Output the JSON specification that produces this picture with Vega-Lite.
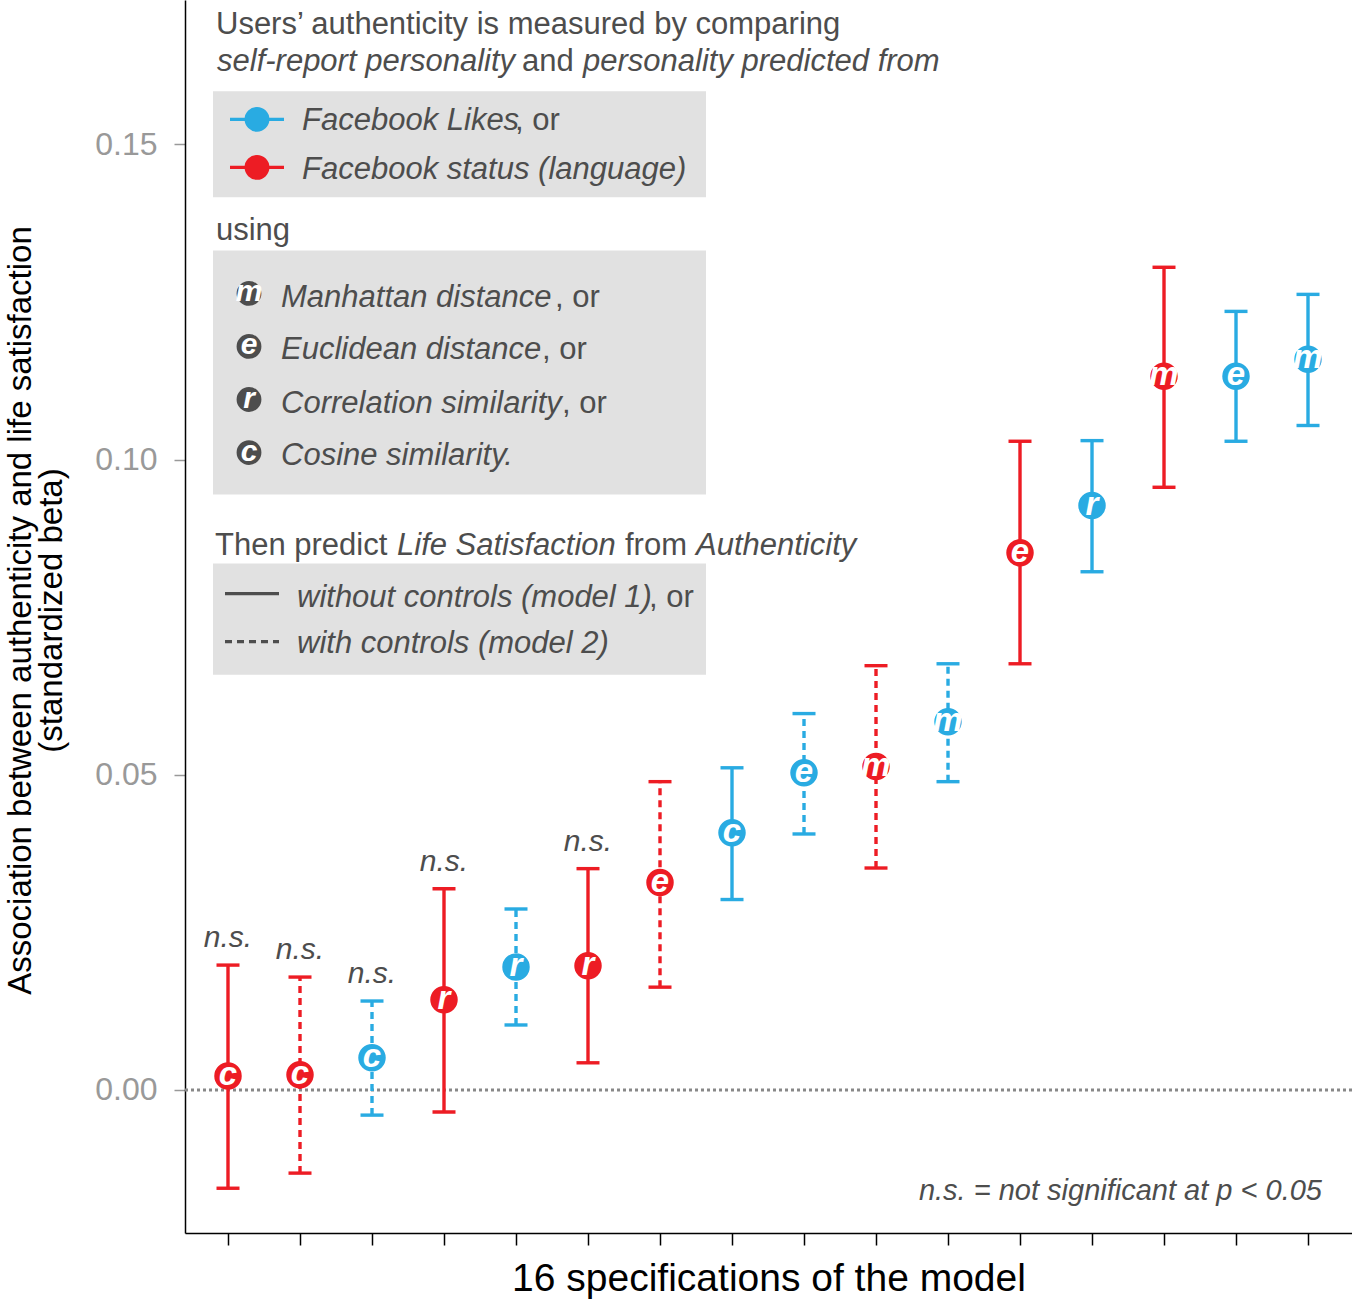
{
  "$schema": "https://vega.github.io/schema/vega-lite/v6.json",
  "width": 1167,
  "height": 1233,
  "autosize": {"type": "none"},
  "padding": {"left": 185, "top": 0, "right": 0, "bottom": 67},
  "background": "white",
  "config": {
    "view": {"stroke": null},
    "font": "Liberation Sans",
    "axis": {"grid": false, "domainWidth": 1.5, "tickWidth": 1.5}
  },
  "datasets": {
    "specs": [
      {"spec": 1, "source": "Facebook status (language)", "metric": "c", "model": "model 1", "beta": 0.0022, "lo": -0.0156, "hi": 0.0198, "ns": true},
      {"spec": 2, "source": "Facebook status (language)", "metric": "c", "model": "model 2", "beta": 0.0024, "lo": -0.0132, "hi": 0.0179, "ns": true},
      {"spec": 3, "source": "Facebook Likes", "metric": "c", "model": "model 2", "beta": 0.0051, "lo": -0.0040, "hi": 0.0141, "ns": true},
      {"spec": 4, "source": "Facebook status (language)", "metric": "r", "model": "model 1", "beta": 0.0143, "lo": -0.0035, "hi": 0.0319, "ns": true},
      {"spec": 5, "source": "Facebook Likes", "metric": "r", "model": "model 2", "beta": 0.0195, "lo": 0.0103, "hi": 0.0287, "ns": false},
      {"spec": 6, "source": "Facebook status (language)", "metric": "r", "model": "model 1", "beta": 0.0197, "lo": 0.0043, "hi": 0.0351, "ns": true},
      {"spec": 7, "source": "Facebook status (language)", "metric": "e", "model": "model 2", "beta": 0.0329, "lo": 0.0163, "hi": 0.0489, "ns": false},
      {"spec": 8, "source": "Facebook Likes", "metric": "c", "model": "model 1", "beta": 0.0408, "lo": 0.0302, "hi": 0.0511, "ns": false},
      {"spec": 9, "source": "Facebook Likes", "metric": "e", "model": "model 2", "beta": 0.0503, "lo": 0.0406, "hi": 0.0597, "ns": false},
      {"spec": 10, "source": "Facebook status (language)", "metric": "m", "model": "model 2", "beta": 0.0513, "lo": 0.0352, "hi": 0.0673, "ns": false},
      {"spec": 11, "source": "Facebook Likes", "metric": "m", "model": "model 2", "beta": 0.0584, "lo": 0.0489, "hi": 0.0676, "ns": false},
      {"spec": 12, "source": "Facebook status (language)", "metric": "e", "model": "model 1", "beta": 0.0852, "lo": 0.0676, "hi": 0.1029, "ns": false},
      {"spec": 13, "source": "Facebook Likes", "metric": "r", "model": "model 1", "beta": 0.0927, "lo": 0.0822, "hi": 0.1030, "ns": false},
      {"spec": 14, "source": "Facebook status (language)", "metric": "m", "model": "model 1", "beta": 0.1132, "lo": 0.0956, "hi": 0.1305, "ns": false},
      {"spec": 15, "source": "Facebook Likes", "metric": "e", "model": "model 1", "beta": 0.1132, "lo": 0.1029, "hi": 0.1235, "ns": false},
      {"spec": 16, "source": "Facebook Likes", "metric": "m", "model": "model 1", "beta": 0.1159, "lo": 0.1054, "hi": 0.1262, "ns": false}
    ],
    "boxes": [
      {"x": 0.7917, "x2": 7.6389, "y": 0.15841, "y2": 0.14159},
      {"x": 0.7917, "x2": 7.6389, "y": 0.13317, "y2": 0.09444},
      {"x": 0.7917, "x2": 7.6389, "y": 0.08349, "y2": 0.06587}
    ],
    "sourceKey": [
      {"source": "Facebook Likes", "x": 1.0278, "x2": 1.7778, "cx": 1.4028, "y": 0.15397},
      {"source": "Facebook status (language)", "x": 1.0278, "x2": 1.7778, "cx": 1.4028, "y": 0.14635}
    ],
    "metricKey": [
      {"metric": "m", "x": 1.2917, "y": 0.12635},
      {"metric": "e", "x": 1.2917, "y": 0.11794},
      {"metric": "r", "x": 1.2917, "y": 0.10952},
      {"metric": "c", "x": 1.2917, "y": 0.10111}
    ],
    "modelKey": [
      {"model": "model 1", "x": 0.9583, "x2": 1.7083, "y": 0.07873},
      {"model": "model 2", "x": 0.9583, "x2": 1.7083, "y": 0.07111}
    ],
    "normalText": [
      {"x": 0.8333, "y": 0.16746, "text": "Users’ authenticity is measured by comparing"},
      {"x": 5.0833, "y": 0.16159, "text": "and"},
      {"x": 4.986, "y": 0.15222, "text": ", or"},
      {"x": 0.8333, "y": 0.13476, "text": "using"},
      {"x": 5.5417, "y": 0.12413, "text": ", or"},
      {"x": 5.3611, "y": 0.11587, "text": ", or"},
      {"x": 5.6389, "y": 0.10746, "text": ", or"},
      {"x": 0.8194, "y": 0.08492, "text": "Then predict"},
      {"x": 6.5139, "y": 0.08492, "text": "from"},
      {"x": 6.8472, "y": 0.07667, "text": ", or"}
    ],
    "italicText": [
      {"x": 0.8472, "y": 0.16159, "text": "self-report personality"},
      {"x": 5.9306, "y": 0.16159, "text": "personality predicted from"},
      {"x": 2.0278, "y": 0.15222, "text": "Facebook Likes"},
      {"x": 2.0278, "y": 0.14444, "text": "Facebook status (language)"},
      {"x": 1.7361, "y": 0.12413, "text": "Manhattan distance"},
      {"x": 1.7361, "y": 0.11587, "text": "Euclidean distance"},
      {"x": 1.7361, "y": 0.10746, "text": "Correlation similarity"},
      {"x": 1.7361, "y": 0.09921, "text": "Cosine similarity."},
      {"x": 3.3472, "y": 0.08492, "text": "Life Satisfaction"},
      {"x": 7.5, "y": 0.08492, "text": "Authenticity"},
      {"x": 1.9583, "y": 0.07667, "text": "without controls (model 1)"},
      {"x": 1.9583, "y": 0.06937, "text": "with controls (model 2)"}
    ],
    "note": [
      {"x": 16.194, "y": -0.01746, "text": "n.s. = not significant at p < 0.05"}
    ]
  },
  "encoding": {
    "x": {
      "type": "quantitative",
      "scale": {"domain": [0.4028, 16.611], "nice": false, "zero": false},
      "axis": {
        "values": [1, 2, 3, 4, 5, 6, 7, 8, 9, 10, 11, 12, 13, 14, 15, 16],
        "labels": false,
        "tickSize": 12,
        "tickColor": "#000000",
        "domainColor": "#000000",
        "title": "16 specifications of the model",
        "titleFontSize": 39,
        "titleFontWeight": "normal",
        "titleColor": "#000000",
        "titleBaseline": "alphabetic",
        "titleY": 57
      }
    },
    "y": {
      "type": "quantitative",
      "scale": {"domain": [-0.0227, 0.1729], "nice": false, "zero": false},
      "axis": {
        "values": [0, 0.05, 0.1, 0.15],
        "format": ".2f",
        "labelFontSize": 32,
        "labelColor": "#999999",
        "tickColor": "#999999",
        "tickSize": 11,
        "labelPadding": 17,
        "domainColor": "#000000",
        "title": ["Association between authenticity and life satisfaction", "(standardized beta)"],
        "titleFontSize": 33,
        "titleFontWeight": "normal",
        "titleColor": "#000000",
        "titleAngle": -90,
        "titleX": -181,
        "titleY": 610,
        "titleAlign": "center",
        "titleBaseline": "top",
        "titleLineHeight": 31
      }
    }
  },
  "layer": [
    {
      "data": {"name": "boxes"},
      "mark": {"type": "rect", "fill": "#e1e1e1"},
      "encoding": {"x": {"field": "x"}, "x2": {"field": "x2"}, "y": {"field": "y"}, "y2": {"field": "y2"}}
    },
    {
      "data": {"values": [{"zero": 0}]},
      "mark": {"type": "rule", "color": "#888888", "strokeWidth": 3, "strokeDash": [3, 3]},
      "encoding": {"x": null, "y": {"field": "zero"}}
    },
    {
      "data": {"name": "specs"},
      "mark": {"type": "rule", "strokeWidth": 3.4},
      "encoding": {
        "x": {"field": "spec"},
        "y": {"field": "lo"},
        "y2": {"field": "hi"},
        "color": {"field": "source", "type": "nominal", "scale": {"domain": ["Facebook Likes", "Facebook status (language)"], "range": ["#29abe2", "#ed1c24"]}, "legend": null},
        "strokeDash": {"field": "model", "type": "nominal", "scale": {"domain": ["model 1", "model 2"], "range": [[1, 0], [7, 5]]}, "legend": null}
      }
    },
    {
      "data": {"name": "specs"},
      "mark": {"type": "tick", "orient": "horizontal", "size": 23, "thickness": 3.4, "opacity": 1},
      "encoding": {
        "x": {"field": "spec"},
        "y": {"field": "lo"},
        "color": {"field": "source", "type": "nominal", "legend": null}
      }
    },
    {
      "data": {"name": "specs"},
      "mark": {"type": "tick", "orient": "horizontal", "size": 23, "thickness": 3.4, "opacity": 1},
      "encoding": {
        "x": {"field": "spec"},
        "y": {"field": "hi"},
        "color": {"field": "source", "type": "nominal", "legend": null}
      }
    },
    {
      "data": {"name": "specs"},
      "mark": {"type": "circle", "size": 755, "opacity": 1},
      "encoding": {
        "x": {"field": "spec"},
        "y": {"field": "beta"},
        "color": {"field": "source", "type": "nominal", "legend": null}
      }
    },
    {
      "data": {"name": "specs"},
      "mark": {"type": "text", "font": "Liberation Sans Narrow, Liberation Sans", "fontSize": 33, "fontWeight": "bold", "fontStyle": "italic", "color": "#ffffff", "align": "center", "baseline": "middle", "dy": -1},
      "encoding": {"x": {"field": "spec"}, "y": {"field": "beta"}, "text": {"field": "metric"}}
    },
    {
      "data": {"name": "specs"},
      "transform": [{"filter": "datum.ns"}],
      "mark": {"type": "text", "fontSize": 30, "fontStyle": "italic", "color": "#4d4d4d", "align": "center", "baseline": "alphabetic", "dy": -18},
      "encoding": {"x": {"field": "spec"}, "y": {"field": "hi"}, "text": {"value": "n.s."}}
    },
    {
      "data": {"name": "sourceKey"},
      "mark": {"type": "rule", "strokeWidth": 3.4},
      "encoding": {
        "x": {"field": "x"}, "x2": {"field": "x2"}, "y": {"field": "y"},
        "color": {"field": "source", "type": "nominal", "legend": null}
      }
    },
    {
      "data": {"name": "sourceKey"},
      "mark": {"type": "circle", "size": 616, "opacity": 1},
      "encoding": {
        "x": {"field": "cx"}, "y": {"field": "y"},
        "color": {"field": "source", "type": "nominal", "legend": null}
      }
    },
    {
      "data": {"name": "modelKey"},
      "mark": {"type": "rule", "strokeWidth": 3.4, "color": "#4d4d4d"},
      "encoding": {
        "x": {"field": "x"}, "x2": {"field": "x2"}, "y": {"field": "y"},
        "strokeDash": {"field": "model", "type": "nominal", "legend": null}
      }
    },
    {
      "data": {"name": "metricKey"},
      "mark": {"type": "circle", "size": 616, "opacity": 1, "color": "#4d4d4d"},
      "encoding": {"x": {"field": "x"}, "y": {"field": "y"}}
    },
    {
      "data": {"name": "metricKey"},
      "mark": {"type": "text", "font": "Liberation Sans Narrow, Liberation Sans", "fontSize": 30, "fontWeight": "bold", "fontStyle": "italic", "color": "#ffffff", "align": "center", "baseline": "middle", "dy": -1},
      "encoding": {"x": {"field": "x"}, "y": {"field": "y"}, "text": {"field": "metric"}}
    },
    {
      "data": {"name": "normalText"},
      "mark": {"type": "text", "fontSize": 31, "color": "#4d4d4d", "align": "left", "baseline": "alphabetic"},
      "encoding": {"x": {"field": "x"}, "y": {"field": "y"}, "text": {"field": "text"}}
    },
    {
      "data": {"name": "italicText"},
      "mark": {"type": "text", "fontSize": 31, "fontStyle": "italic", "color": "#4d4d4d", "align": "left", "baseline": "alphabetic"},
      "encoding": {"x": {"field": "x"}, "y": {"field": "y"}, "text": {"field": "text"}}
    },
    {
      "data": {"name": "note"},
      "mark": {"type": "text", "fontSize": 29, "fontStyle": "italic", "color": "#4d4d4d", "align": "right", "baseline": "alphabetic"},
      "encoding": {"x": {"field": "x"}, "y": {"field": "y"}, "text": {"field": "text"}}
    }
  ]
}
